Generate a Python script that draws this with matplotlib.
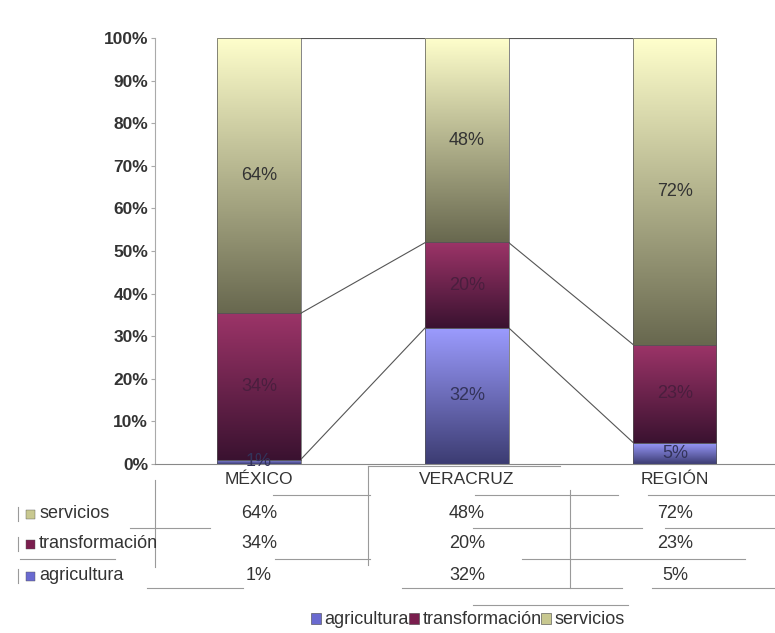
import numpy as np
import matplotlib
matplotlib.use("Agg")
import matplotlib.pyplot as plt
from matplotlib.colors import LinearSegmentedColormap
from matplotlib.patches import Rectangle
from matplotlib.lines import Line2D
from matplotlib.transforms import blended_transform_factory

plt.rcParams["font.family"] = ["Liberation Sans", "DejaVu Sans"]

categorias = ["MÉXICO", "VERACRUZ", "REGIÓN"]
series = ["agricultura", "transformación", "servicios"]
agricultura = [1, 32, 5]
transformacion = [34, 20, 23]
servicios = [64, 48, 72]
ticks = [0, 10, 20, 30, 40, 50, 60, 70, 80, 90, 100]

# gradiente (arriba claro -> abajo oscuro) y color de leyenda por serie
GRAD = {
    "agricultura": ("#9c9cff", "#3c3c72"),
    "transformación": ("#9c3468", "#3a1230"),
    "servicios": ("#ffffcc", "#68684f"),
}
LEG = {"agricultura": "#6a6ad0", "transformación": "#7a1e4e", "servicios": "#c8c890"}
LBL = {"agricultura": "#33335a", "transformación": "#4a1e3e", "servicios": "#333333"}

W_PX, H_PX = 775, 633


def px(x, y):
    """pixeles (origen arriba-izquierda) -> fracción de figura"""
    return x / W_PX, 1 - y / H_PX


valores = np.array([agricultura, transformacion, servicios], dtype=float)
pct = valores / valores.sum(axis=0) * 100
x = np.arange(len(categorias))
W = 0.4

fig = plt.figure(figsize=(7.75, 6.33), dpi=100)
ax = fig.add_axes([0.2, 0.267, 0.805, 0.673])
ax.set_xlim(-0.5, 2.5)
ax.set_ylim(0, 100)

base = np.zeros(len(categorias))
for nombre, fila, bruto in zip(series, pct, valores):
    bars = ax.bar(x, fila, W, bottom=base, color="none", edgecolor="#555555",
                  linewidth=0.5, zorder=3)
    cmap = LinearSegmentedColormap.from_list(nombre, [GRAD[nombre][1], GRAD[nombre][0]])
    for b in bars:
        x0, y0, w, h = b.get_x(), b.get_y(), b.get_width(), b.get_height()
        grad = np.linspace(0, 1, 256).reshape(-1, 1)
        im = ax.imshow(grad, extent=[x0, x0 + w, y0, y0 + h], origin="lower",
                       cmap=cmap, aspect="auto", zorder=2)
        im.set_clip_path(b)
    for xi, b0, h, v in zip(x, base, fila, bruto):
        ax.text(xi, b0 + h / 2, f"{v:.0f}%", ha="center", va="center",
                fontsize=13, color=LBL[nombre], zorder=4)
    base = base + fila
    # líneas de serie entre barras
    for i in range(len(x) - 1):
        ax.plot([x[i] + W / 2, x[i + 1] - W / 2], [base[i], base[i + 1]],
                color="#555555", lw=0.8, zorder=1)

ax.set_xticks([])
ax.set_yticks(ticks)
ax.set_yticklabels([f"{t}%" for t in ticks], fontsize=12.5, fontweight="bold",
                   color="#333333")
ax.tick_params(axis="y", length=3, color="#aaaaaa", pad=2)
for s in ["top", "right"]:
    ax.spines[s].set_visible(False)
ax.spines["left"].set_color("#aaaaaa")
ax.spines["bottom"].set_color("#888888")

# tabla de datos bajo el gráfico
tr = blended_transform_factory(ax.transData, fig.transFigure)
y_cat = px(0, 480)[1]
y_filas = [px(0, 514)[1], px(0, 544)[1], px(0, 576)[1]]
for xi, c in zip(x, categorias):
    ax.text(xi, y_cat, c, transform=tr, ha="center", va="center",
            fontsize=12.5, color="#333333", clip_on=False)
for yf, nombre in zip(y_filas, ["servicios", "transformación", "agricultura"]):
    fila = valores[series.index(nombre)]
    fig.add_artist(Rectangle((px(26, 0)[0], yf - 4.5 / H_PX), 9 / W_PX, 9 / H_PX,
                             transform=fig.transFigure, facecolor=LEG[nombre],
                             edgecolor="#555555", lw=0.3))
    fig.add_artist(Line2D([px(18, 0)[0]] * 2, [yf - 7 / H_PX, yf + 7 / H_PX],
                          transform=fig.transFigure, color="#9a9a9a", lw=0.8))
    fig.text(px(39, 0)[0], yf, nombre, fontsize=13, color="#333333", va="center")
    for xi, v in zip(x, fila):
        ax.text(xi, yf, f"{v:.0f}%", transform=tr, ha="center", va="center",
                fontsize=13, color="#333333", clip_on=False)

# rejilla de la tabla (trazos entrecortados)
gris = "#9a9a9a"
h_trazos = [
    (495, 273, 370), (495, 475, 618), (495, 648, 775),
    (528, 130, 210), (528, 473, 642), (528, 665, 775),
    (559, 20, 115), (559, 275, 370), (559, 522, 745),
    (588, 147, 243), (588, 402, 622), (588, 652, 775),
    (605, 473, 628), (466, 368, 560),
]
v_trazos = [(155, 480, 567), (368, 466, 565), (570, 490, 588)]
for yy, xa, xb in h_trazos:
    fig.add_artist(Line2D([px(xa, 0)[0], px(xb, 0)[0]], [px(0, yy)[1]] * 2,
                          transform=fig.transFigure, color=gris, lw=0.8))
for xx, ya, yb in v_trazos:
    fig.add_artist(Line2D([px(xx, 0)[0]] * 2, [px(0, ya)[1], px(0, yb)[1]],
                          transform=fig.transFigure, color=gris, lw=0.8))

handles = [Rectangle((0, 0), 1, 1, facecolor=LEG[s], edgecolor="#444444", lw=0.4)
           for s in series]
fig.legend(handles, series, loc="center", bbox_to_anchor=px(468, 620),
           ncol=3, frameon=False, fontsize=13, handlelength=0.55, handleheight=0.55,
           handletextpad=0.2, columnspacing=0.0, labelcolor="#333333",
           borderpad=0, borderaxespad=0)

fig.savefig("out.png", dpi=100)
